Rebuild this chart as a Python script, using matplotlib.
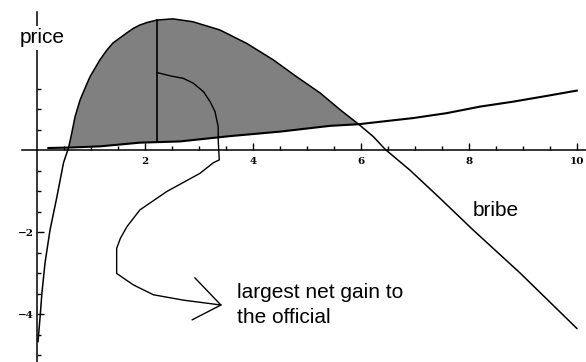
import numpy as np
import matplotlib.pyplot as plt
from matplotlib.ticker import FixedLocator

# benefit curve of the bribe (price vs bribe)
gain_x = [0.024, 0.065, 0.096, 0.154, 0.246, 0.374, 0.496, 0.59, 0.648, 0.709,
          0.802, 0.894, 0.987, 1.17, 1.30, 1.41, 1.67, 1.79, 1.91, 2.04, 2.22,
          2.52, 2.89, 3.39, 3.89, 4.38, 4.81, 5.25, 5.62, 5.96, 6.23, 6.45,
          6.91, 7.47, 8.08, 8.95, 10.0]
gain_y = [-4.66, -4.02, -3.48, -2.74, -1.94, -1.13, -0.30, 0.07, 0.42, 0.82,
          1.23, 1.52, 1.80, 2.21, 2.45, 2.62, 2.87, 2.98, 3.06, 3.12, 3.18,
          3.21, 3.14, 2.94, 2.61, 2.21, 1.80, 1.40, 0.99, 0.64, 0.34, 0.03,
          -0.48, -1.17, -1.94, -2.99, -4.34]

# cost line
cost_x = [0.215, 0.59, 1.17, 1.91, 2.65, 3.58, 4.51, 5.43, 5.96, 6.36, 6.97,
          7.59, 8.21, 8.82, 9.44, 10.0]
cost_y = [0.06, 0.07, 0.10, 0.19, 0.22, 0.35, 0.46, 0.60, 0.64, 0.70, 0.79,
          0.91, 1.07, 1.19, 1.33, 1.46]

# where the gap is widest
peak_x = 2.23
peak_lo, peak_hi = 0.20, 3.18

# hand-drawn pointer from the gap to the caption
arrow_x = [2.23, 2.47, 2.71, 2.90, 3.09, 3.21, 3.30, 3.36, 3.36, 3.38, 3.27,
           3.02, 2.41, 1.91, 1.67, 1.55, 1.48, 1.48, 1.79, 2.16, 2.71, 3.41]
arrow_y = [1.90, 1.82, 1.76, 1.64, 1.43, 1.19, 0.95, 0.58, 0.26, -0.23, -0.30,
           -0.56, -1.00, -1.45, -1.86, -2.14, -2.39, -3.00, -3.28, -3.52,
           -3.65, -3.77]
head_x = [2.93, 3.41, 2.88]
head_y = [-3.11, -3.77, -4.13]

x_major = [2, 4, 6, 8, 10]
x_minor = list(np.arange(0.5, 10.01, 0.5))
y_major = [-4, -2]
y_minor = [-5, -4.5, -3.5, -3, -2.5, -1.5, -1, -0.5, 0.5, 1, 1.5]

fig = plt.figure(figsize=(5.86, 3.62), dpi=100)
ax = fig.add_axes([0, 0, 1, 1])
ax.set_xlim(-0.68, 10.17)
ax.set_ylim(-5.16, 3.67)

gx, gy = np.array(gain_x), np.array(gain_y)
cx, cy = np.array(cost_x), np.array(cost_y)
g_in = (gx >= 0.59) & (gx <= 5.96)
c_in = (cx >= 0.59) & (cx <= 5.96)
ax.fill(np.concatenate([gx[g_in], cx[c_in][::-1]]),
        np.concatenate([gy[g_in], cy[c_in][::-1]]),
        color="#808080", lw=0)

ax.plot(gain_x, gain_y, color="black", lw=1.1)
ax.plot(cost_x, cost_y, color="black", lw=1.5)
ax.plot([peak_x, peak_x], [peak_lo, peak_hi], color="black", lw=1.2)
ax.plot(arrow_x, arrow_y, color="black", lw=1.0)
ax.plot(head_x, head_y, color="black", lw=1.0)

# axes through the origin
for s in ["top", "right"]:
    ax.spines[s].set_visible(False)
ax.spines["left"].set_position(("data", 0))
ax.spines["bottom"].set_position(("data", 0))
ax.spines["left"].set_bounds(-5.2, 3.38)
ax.spines["bottom"].set_bounds(-0.28, 10.2)
for s in ["left", "bottom"]:
    ax.spines[s].set_linewidth(1.1)

ax.xaxis.set_major_locator(FixedLocator(x_major))
ax.xaxis.set_minor_locator(FixedLocator(x_minor))
ax.yaxis.set_major_locator(FixedLocator(y_major))
ax.yaxis.set_minor_locator(FixedLocator(y_minor))
ax.tick_params(which="major", direction="in", length=5, width=1.0)
ax.tick_params(which="minor", direction="in", length=3, width=1.0)
ax.tick_params(axis="x", pad=5)
ax.tick_params(axis="y", pad=2)
for lab in ax.get_xticklabels() + ax.get_yticklabels():
    lab.set_family("DejaVu Serif")
    lab.set_fontweight("bold")
    lab.set_fontsize(7.5)

tfont = dict(family="Liberation Sans", fontsize=15, color="black")
ax.text(-0.31, 2.61, "price", va="baseline", ha="left", zorder=5,
        bbox=dict(facecolor="white", edgecolor="none", pad=1.5), **tfont)
ax.text(8.08, -1.61, "bribe", va="baseline", ha="left", **tfont)
ax.text(3.71, -3.60, "largest net gain to", va="baseline", ha="left", **tfont)
ax.text(3.71, -4.21, "the official", va="baseline", ha="left", **tfont)

plt.savefig("out.png", dpi=100)
